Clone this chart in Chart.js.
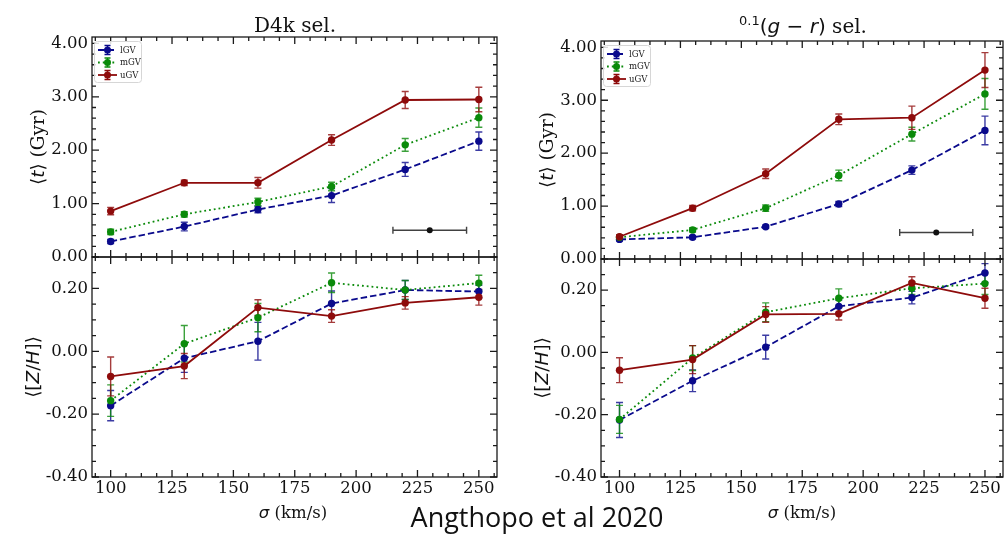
<!DOCTYPE html>
<html>
<head>
<meta charset="utf-8">
<script src="https://cdn.jsdelivr.net/npm/chart.js@4.4.1/dist/chart.umd.min.js"></script>
<style>
  body { margin: 0; background: #fff; width: 1007px; height: 534px; overflow: hidden; position: relative; font-family: 'DejaVu Serif', serif; color: #111; }
  canvas { position: absolute; }
  .lbl { position: absolute; white-space: nowrap; line-height: 1; transform: translate(-50%, -50%); }
  .rot { transform: translate(-50%, -50%) rotate(-90deg); }
  .m { font-family: 'DejaVu Sans', sans-serif; }
  .title { position: absolute; white-space: nowrap; line-height: 1; font-size: 20px; transform: translateX(-50%); }
  sup { font-size: 0.65em; vertical-align: 0.6em; line-height: 0; }
  #cite { position: absolute; left: 537px; top: 503px; transform: translateX(-50%); font-family: 'Open Sans', sans-serif; font-size: 27px; line-height: 1; white-space: nowrap; color: #111; }
</style>
</head>
<body>
<canvas id="ageD4k" width="505" height="270" style="left:0;top:0"></canvas>
<canvas id="metD4k" width="505" height="284" style="left:0;top:250px"></canvas>
<canvas id="ageGR" width="502" height="270" style="left:505px;top:0"></canvas>
<canvas id="metGR" width="502" height="284" style="left:505px;top:250px"></canvas>

<div class="title" style="left:295px;top:15px">D4k sel.</div>
<div class="title" style="left:803px;top:16px"><span class="m"><sup>0.1</sup>(<i>g</i> − <i>r</i>)</span> sel.</div>

<div class="lbl rot" style="left:38px;top:147px;font-size:18.5px"><span class="m">⟨<i>t</i>⟩</span> (Gyr)</div>
<div class="lbl rot m" style="left:33px;top:367px;font-size:18.5px">⟨[<i>Z</i>/<i>H</i>]⟩</div>
<div class="lbl rot" style="left:547px;top:150px;font-size:18.5px"><span class="m">⟨<i>t</i>⟩</span> (Gyr)</div>
<div class="lbl rot m" style="left:542px;top:368px;font-size:18.5px">⟨[<i>Z</i>/<i>H</i>]⟩</div>

<div class="lbl" style="left:293px;top:513px;font-size:16.5px"><span class="m"><i>σ</i></span> (km/s)</div>
<div class="lbl" style="left:802px;top:513px;font-size:16.5px"><span class="m"><i>σ</i></span> (km/s)</div>

<div id="cite">Angthopo et al 2020</div>

<script>
// velocity dispersion bins (km/s)
const sigma = [100, 130, 160, 190, 220, 250];
const groups = ['lGV', 'mGV', 'uGV'];

// mean age (Gyr), D4k selection
const ageD4kL = [0.29, 0.57, 0.89, 1.15, 1.64, 2.17];
const ageD4kLErr = [0.04, 0.08, 0.06, 0.13, 0.13, 0.17];
const ageD4kM = [0.47, 0.80, 1.03, 1.32, 2.10, 2.61];
const ageD4kMErr = [0.05, 0.05, 0.07, 0.08, 0.12, 0.18];
const ageD4kU = [0.86, 1.39, 1.39, 2.19, 2.94, 2.95];
const ageD4kUErr = [0.07, 0.05, 0.10, 0.10, 0.16, 0.23];

// mean age (Gyr), (g-r) selection
const ageGRL = [0.37, 0.41, 0.61, 1.04, 1.68, 2.43];
const ageGRLErr = [0.03, 0.03, 0.03, 0.05, 0.08, 0.27];
const ageGRM = [0.41, 0.55, 0.96, 1.58, 2.36, 3.12];
const ageGRMErr = [0.03, 0.04, 0.06, 0.10, 0.13, 0.29];
const ageGRU = [0.42, 0.96, 1.61, 2.64, 2.67, 3.57];
const ageGRUErr = [0.04, 0.05, 0.09, 0.10, 0.22, 0.33];

// mean metallicity [Z/H], D4k selection
const metD4kL = [-0.173, -0.022, 0.032, 0.152, 0.195, 0.190];
const metD4kLErr = [0.048, 0.045, 0.060, 0.040, 0.030, 0.020];
const metD4kM = [-0.157, 0.024, 0.107, 0.218, 0.195, 0.217];
const metD4kMErr = [0.050, 0.058, 0.045, 0.031, 0.030, 0.025];
const metD4kU = [-0.080, -0.047, 0.139, 0.112, 0.154, 0.172];
const metD4kUErr = [0.062, 0.040, 0.025, 0.020, 0.020, 0.025];

// mean metallicity [Z/H], (g-r) selection
const metGRL = [-0.217, -0.091, 0.017, 0.148, 0.176, 0.255];
const metGRLErr = [0.056, 0.035, 0.038, 0.020, 0.020, 0.030];
const metGRM = [-0.215, -0.018, 0.129, 0.174, 0.206, 0.221];
const metGRMErr = [0.045, 0.040, 0.030, 0.030, 0.020, 0.035];
const metGRU = [-0.057, -0.023, 0.122, 0.124, 0.223, 0.174];
const metGRUErr = [0.040, 0.045, 0.025, 0.020, 0.020, 0.032];

// typical sigma uncertainty shown in the age panels
const resX = [230];
const resY = [0.5];
const resXErr = [15];

const ageTicks = [0, 1, 2, 3, 4];
const metTicks = [-0.4, -0.2, 0, 0.2];
const sigmaTicks = [100, 125, 150, 175, 200, 225, 250];

Chart.defaults.font.family = "'DejaVu Serif', serif";
Chart.defaults.color = '#111';

const style = {
    lGV: { color: '#0a0a8c', dash: [6.5, 3], order: 2 },
    mGV: { color: '#0a8a0a', dash: [1.8, 3], order: 1 },
    uGV: { color: '#8e0b0b', dash: [], order: 0 }
};

//--- error bars drawn under the lines and markers
const errorBars = {
    id: 'errorBars',
    beforeDatasetsDraw(chart) {
        const { ctx, scales: { x, y } } = chart;
        chart.data.datasets.forEach(function (ds) {
            ctx.save();
            ctx.strokeStyle = ds.borderColor;
            ctx.globalAlpha = 0.8;
            ctx.lineWidth = 1.4;
            ds.data.forEach(function (p, j) {
                const px = x.getPixelForValue(p.x), py = y.getPixelForValue(p.y);
                ctx.beginPath();
                if (ds.yErr) {
                    const t = y.getPixelForValue(p.y + ds.yErr[j]);
                    const b = y.getPixelForValue(p.y - ds.yErr[j]);
                    ctx.moveTo(px, t); ctx.lineTo(px, b);
                    ctx.moveTo(px - 3.5, t); ctx.lineTo(px + 3.5, t);
                    ctx.moveTo(px - 3.5, b); ctx.lineTo(px + 3.5, b);
                }
                if (ds.xErr) {
                    const l = x.getPixelForValue(p.x - ds.xErr[j]);
                    const r = x.getPixelForValue(p.x + ds.xErr[j]);
                    ctx.moveTo(l, py); ctx.lineTo(r, py);
                    ctx.moveTo(l, py - 3.5); ctx.lineTo(l, py + 3.5);
                    ctx.moveTo(r, py - 3.5); ctx.lineTo(r, py + 3.5);
                }
                ctx.stroke();
            });
            ctx.restore();
        });
    }
};

//--- box + inward ticks on all four sides
const frameTicks = {
    id: 'frameTicks',
    afterDatasetsDraw(chart, args, opts) {
        const { ctx, chartArea: a, scales: { x, y } } = chart;
        ctx.save();
        ctx.strokeStyle = '#1a1a1a';
        ctx.lineWidth = 1.3;
        ctx.strokeRect(a.left, a.top, a.right - a.left, a.bottom - a.top);
        ctx.beginPath();
        const walk = function (scale, step, majors, fn) {
            for (let k = Math.ceil(scale.min / step - 1e-9); k * step <= scale.max + 1e-9; k++) {
                const v = k * step;
                const isMajor = majors.some(m => Math.abs(m - v) < 1e-6);
                fn(scale.getPixelForValue(v), isMajor ? 7 : 4);
            }
        };
        walk(x, opts.xMinor, x.ticks.map(t => t.value), function (px, len) {
            ctx.moveTo(px, a.bottom); ctx.lineTo(px, a.bottom - len);
            ctx.moveTo(px, a.top); ctx.lineTo(px, a.top + len);
        });
        walk(y, opts.yMinor, y.ticks.map(t => t.value), function (py, len) {
            ctx.moveTo(a.left, py); ctx.lineTo(a.left + len, py);
            ctx.moveTo(a.right, py); ctx.lineTo(a.right - len, py);
        });
        ctx.stroke();
        ctx.restore();
    }
};

//--- small legend in the upper left corner
const gvLegend = {
    id: 'gvLegend',
    afterDraw(chart, args, opts) {
        if (!opts.show) return;
        const { ctx, chartArea: a } = chart;
        const x0 = a.left, y0 = a.top;
        ctx.save();
        ctx.fillStyle = 'rgba(255,255,255,0.85)';
        ctx.strokeStyle = '#d6d6d6';
        ctx.lineWidth = 1;
        ctx.beginPath();
        ctx.roundRect(x0 + 2.5, y0 + 4.5, 47, 41, 3);
        ctx.fill(); ctx.stroke();
        const rows = [13, 25.5, 38];
        chart.data.datasets.filter(ds => ds.label).forEach(function (ds, i) {
            const yy = y0 + rows[i];
            ctx.strokeStyle = ds.borderColor;
            ctx.fillStyle = ds.borderColor;
            ctx.lineWidth = 1.8;
            ctx.setLineDash(ds.borderDash);
            ctx.beginPath();
            ctx.moveTo(x0 + 6, yy); ctx.lineTo(x0 + 25, yy);
            ctx.stroke();
            ctx.setLineDash([]);
            ctx.lineWidth = 1.4;
            ctx.beginPath();
            ctx.moveTo(x0 + 15.5, yy - 4.5); ctx.lineTo(x0 + 15.5, yy + 4.5);
            ctx.moveTo(x0 + 12.5, yy - 4.5); ctx.lineTo(x0 + 18.5, yy - 4.5);
            ctx.moveTo(x0 + 12.5, yy + 4.5); ctx.lineTo(x0 + 18.5, yy + 4.5);
            ctx.stroke();
            ctx.beginPath();
            ctx.arc(x0 + 15.5, yy, 3.5, 0, Math.PI * 2);
            ctx.fill();
            ctx.fillStyle = '#222';
            ctx.font = "8.5px 'DejaVu Serif'";
            ctx.textBaseline = 'middle';
            ctx.fillText(ds.label, x0 + 28, yy + 0.5);
        });
        ctx.restore();
    }
};

// stop the axes from pushing the plot area in for overhanging labels
function noOverhang(s) {
    s.paddingTop = 0; s.paddingBottom = 0; s.paddingLeft = 0; s.paddingRight = 0;
}

function series(name, vals, errs) {
    const s = style[name];
    return {
        label: name,
        data: sigma.map((x, i) => ({ x: x, y: vals[i] })),
        yErr: errs,
        borderColor: s.color,
        backgroundColor: s.color,
        borderDash: s.dash,
        borderWidth: 1.8,
        pointRadius: 3.7,
        pointBorderWidth: 0,
        pointBackgroundColor: s.color,
        order: s.order
    };
}

function refPoint() {
    return {
        label: '',
        data: resX.map((x, i) => ({ x: x, y: resY[i] })),
        xErr: resXErr,
        borderColor: '#111',
        backgroundColor: '#111',
        showLine: false,
        pointRadius: 3,
        pointBorderWidth: 0,
        order: 5
    };
}

function makePanel(id, datasets, p) {
    new Chart(document.getElementById(id), {
        type: 'line',
        data: { datasets: datasets },
        plugins: [errorBars, frameTicks, gvLegend],
        options: {
            responsive: false,
            animation: false,
            events: [],
            layout: { padding: p.pad },
            scales: {
                x: {
                    type: 'linear',
                    min: 92.4, max: 257.4,
                    display: p.xLabels,
                    afterBuildTicks: s => { s.ticks = sigmaTicks.map(v => ({ value: v })); },
                    afterFit: s => { s.height = p.xLabels ? 57 : 0; noOverhang(s); },
                    grid: { display: false, drawTicks: false },
                    border: { display: false },
                    ticks: { font: { size: 16.5 }, padding: 2, maxRotation: 0, color: '#111' }
                },
                y: {
                    type: 'linear',
                    min: p.yMin, max: p.yMax,
                    afterBuildTicks: s => { s.ticks = p.yTicks.map(v => ({ value: v })); },
                    afterFit: s => { s.width = p.yWidth; noOverhang(s); },
                    grid: { display: false, drawTicks: false },
                    border: { display: false },
                    ticks: { font: { size: 16.5 }, padding: 4, color: '#111', callback: v => v.toFixed(2) }
                }
            },
            plugins: {
                legend: { display: false },
                tooltip: { enabled: false },
                frameTicks: { xMinor: 6.25, yMinor: p.yMinor },
                gvLegend: { show: p.legend }
            }
        }
    });
}

makePanel('ageD4k', [
    series('lGV', ageD4kL, ageD4kLErr),
    series('mGV', ageD4kM, ageD4kMErr),
    series('uGV', ageD4kU, ageD4kUErr),
    refPoint()
], { pad: { top: 37, right: 8, bottom: 13, left: 0 }, yWidth: 92, yMin: 0, yMax: 4.12, yTicks: ageTicks, yMinor: 0.2, xLabels: false, legend: true });

makePanel('metD4k', [
    series('lGV', metD4kL, metD4kLErr),
    series('mGV', metD4kM, metD4kMErr),
    series('uGV', metD4kU, metD4kUErr)
], { pad: { top: 7, right: 8, bottom: 0, left: 0 }, yWidth: 92, yMin: -0.4, yMax: 0.3, yTicks: metTicks, yMinor: 0.05, xLabels: true, legend: false });

makePanel('ageGR', [
    series('lGV', ageGRL, ageGRLErr),
    series('mGV', ageGRM, ageGRMErr),
    series('uGV', ageGRU, ageGRUErr),
    refPoint()
], { pad: { top: 41, right: 1, bottom: 11, left: 0 }, yWidth: 96, yMin: 0, yMax: 4.12, yTicks: ageTicks, yMinor: 0.2, xLabels: false, legend: true });

makePanel('metGR', [
    series('lGV', metGRL, metGRLErr),
    series('mGV', metGRM, metGRMErr),
    series('uGV', metGRU, metGRUErr)
], { pad: { top: 9, right: 1, bottom: 0, left: 0 }, yWidth: 96, yMin: -0.4, yMax: 0.3, yTicks: metTicks, yMinor: 0.05, xLabels: true, legend: false });
</script>
</body>
</html>
